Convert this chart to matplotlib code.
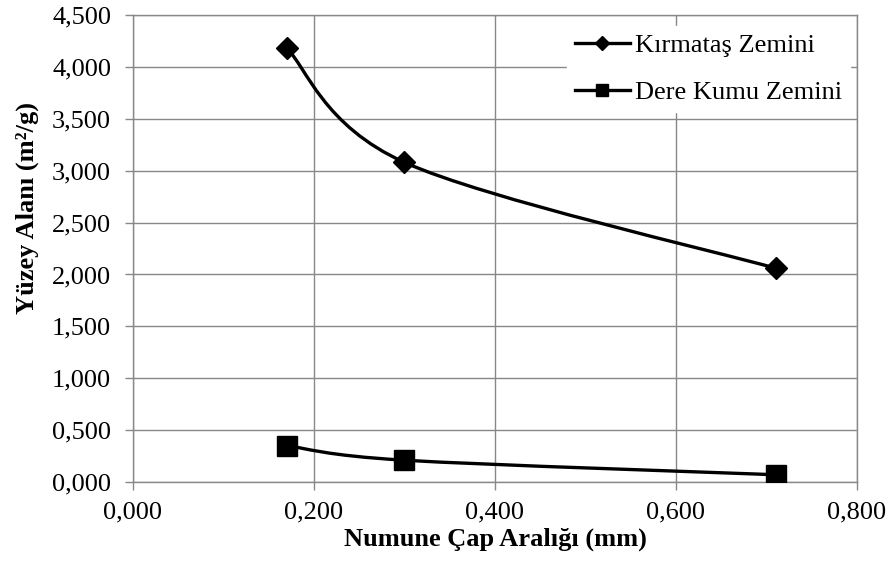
import numpy as np
import matplotlib
matplotlib.use('Agg')
import matplotlib.pyplot as plt
from matplotlib.path import Path
from matplotlib.patches import PathPatch
from matplotlib.lines import Line2D
from matplotlib.ticker import FuncFormatter, MultipleLocator

# ===== veri =====
cap_araligi = [0.17, 0.30, 0.71]          # mm
kirmatas = [4.18, 3.08, 2.06]             # m2/g
dere_kumu = [0.35, 0.21, 0.07]            # m2/g

seri_adlari = ["Kırmataş Zemini", "Dere Kumu Zemini"]

plt.rcParams['font.family'] = ['Liberation Serif', 'DejaVu Serif']

GRI = '#888888'
FS = 19


def smooth_path(xs, ys):
    # Excel tarzı yumuşatılmış çizgi: Catmull-Rom kontrol noktalı kübik Bezier
    p = np.column_stack([xs, ys]).astype(float)
    n = len(p)
    verts = [p[0]]
    codes = [Path.MOVETO]
    for i in range(n - 1):
        prev_p = p[i - 1] if i > 0 else p[i]
        next_p = p[i + 2] if i + 2 < n else p[i + 1]
        c1 = p[i] + (p[i + 1] - prev_p) / 6.0
        c2 = p[i + 1] - (next_p - p[i]) / 6.0
        verts += [c1, c2, p[i + 1]]
        codes += [Path.CURVE4] * 3
    return Path(verts, codes)


def virgul(v, pos):
    return f"{v:.3f}".replace('.', ',')


fig = plt.figure(figsize=(8.9, 5.69), dpi=100)
ax = fig.add_axes([0.1494, 0.1529, 0.8135, 0.8207])

for ys, mk, ms in [(kirmatas, 'D', 11), (dere_kumu, 's', 14)]:
    ax.add_patch(PathPatch(smooth_path(cap_araligi, ys), facecolor='none',
                           edgecolor='black', lw=2.4, zorder=3))
    ax.plot(cap_araligi, ys, linestyle='none', marker=mk, markersize=ms,
            color='black', zorder=4)

ax.set_xlim(0, 0.8)
ax.set_ylim(0, 4.5)
ax.xaxis.set_major_locator(MultipleLocator(0.2))
ax.yaxis.set_major_locator(MultipleLocator(0.5))
ax.xaxis.set_major_formatter(FuncFormatter(virgul))
ax.yaxis.set_major_formatter(FuncFormatter(virgul))

ax.grid(True, color=GRI, lw=1.0, zorder=0)
ax.set_axisbelow(True)
for s in ax.spines.values():
    s.set_color(GRI)
    s.set_linewidth(1.0)
ax.tick_params(axis='both', direction='out', length=5.8, width=1.0,
               color=GRI, labelsize=FS, labelcolor='black')
ax.tick_params(axis='y', pad=10)
ax.tick_params(axis='x', pad=8)

ax.set_xlabel("Numune Çap Aralığı (mm)", fontsize=FS, fontweight='bold', labelpad=3)
ax.set_ylabel("Yüzey Alanı (m²/g)", fontsize=FS, fontweight='bold')
ax.yaxis.set_label_coords(-0.130, 0.586)

handles = [
    Line2D([], [], color='black', lw=2.4, marker='D', markersize=7.5),
    Line2D([], [], color='black', lw=2.4, marker='s', markersize=9),
]
leg = ax.legend(handles, seri_adlari, loc='upper right',
                bbox_to_anchor=(0.9905, 0.977), borderaxespad=0,
                fontsize=FS, handlelength=2.1, handletextpad=0.19,
                labelspacing=0.9, borderpad=0.3, fancybox=False,
                framealpha=1, facecolor='white', edgecolor='white')
leg.set_zorder(5)

fig.savefig("out.png", dpi=100)
plt.close(fig)
